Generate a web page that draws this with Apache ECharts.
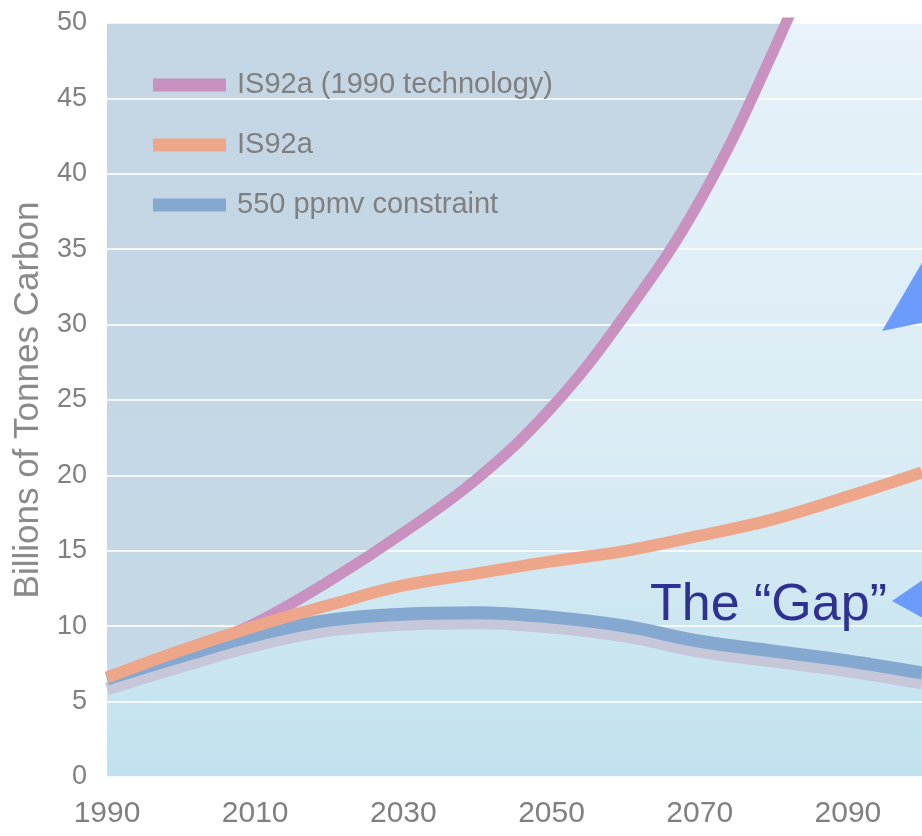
<!DOCTYPE html>
<html>
<head>
<meta charset="utf-8">
<script src="https://cdn.jsdelivr.net/npm/echarts@6/dist/echarts.min.js"></script>
<style>
html,body{margin:0;padding:0;background:#ffffff;}
#chart{width:922px;height:836px;}
</style>
</head>
<body>
<div id="chart"></div>
<script>
// ---- data ----
var years = [1990, 2000, 2010, 2020, 2030, 2040, 2050, 2060, 2070, 2080, 2090, 2100];
var is92a1990Tech = [6.6, 8.2, 10.2, 13.0, 16.2, 19.8, 24.5, 30.7, 38.2, 48.2, 60.0, 74.0];
var is92a = [6.6, 8.4, 10.0, 11.4, 12.7, 13.5, 14.3, 15.0, 16.0, 17.1, 18.6, 20.2];
var ppmv550 = [6.5, 8.0, 9.4, 10.4, 10.8, 10.9, 10.6, 10.0, 9.0, 8.35, 7.7, 6.9];
var seriesNames = ['IS92a (1990 technology)', 'IS92a', '550 ppmv constraint'];
var yTicks = [0, 5, 10, 15, 20, 25, 30, 35, 40, 45, 50];
var xTickLabels = [1990, 2010, 2030, 2050, 2070, 2090];
var yTitle = 'Billions of Tonnes Carbon';
var gapLabel = 'The \u201CGap\u201D';

function pairs(vals) { return years.map(function (y, i) { return [y, vals[i]]; }); }

var regular = "'Liberation Sans',Arial,sans-serif";

var chart = echarts.init(document.getElementById('chart'));
var option = {
  animation: false,
  backgroundColor: '#ffffff',
  grid: {
    left: 107, right: 0, top: 23, bottom: 59,
    show: true, borderWidth: 0,
    backgroundColor: {
      type: 'linear', x: 0, y: 0, x2: 0, y2: 1,
      colorStops: [
        {offset: 0, color: '#e7f2fa'},
        {offset: 0.55, color: '#dbecf5'},
        {offset: 1, color: '#c0e2ee'}
      ]
    }
  },
  legend: {
    orient: 'vertical',
    left: 148, top: 65,
    icon: 'rect',
    itemWidth: 73, itemHeight: 13,
    itemGap: 30,
    data: seriesNames,
    selectedMode: false,
    textStyle: {color: '#7f7f7f', fontSize: 29, fontFamily: regular, lineHeight: 30, padding: [0, 0, 0, 6]}
  },
  xAxis: {
    type: 'value', min: 1990, max: 2100, interval: 20,
    axisLine: {show: false}, axisTick: {show: false}, splitLine: {show: false},
    axisLabel: {
      color: '#808080', fontSize: 30, fontFamily: regular, margin: 22, showMaxLabel: false,
      formatter: function (v) { return xTickLabels.indexOf(v) >= 0 ? String(v) : ''; }
    }
  },
  yAxis: {
    type: 'value', min: 0, max: 50, interval: 5, z: 2,
    name: yTitle, nameLocation: 'middle', nameRotate: 90, nameGap: 60,
    nameTextStyle: {color: '#8a8a8a', fontSize: 35, fontFamily: regular},
    axisLine: {show: false}, axisTick: {show: false},
    splitLine: {show: true, lineStyle: {color: 'rgba(255,255,255,0.8)', width: 2}},
    axisLabel: {
      color: '#808080', fontSize: 27, fontFamily: regular, margin: 20,
      formatter: function (v) { return yTicks.indexOf(v) >= 0 ? String(v) : ''; }
    }
  },
  series: [
    {
      name: 'area', type: 'line', z: 1, silent: true, smooth: 0.4, symbol: 'none',
      data: pairs(is92a1990Tech),
      lineStyle: {width: 0, opacity: 0},
      areaStyle: {
        origin: 'end', opacity: 1,
        color: {type: 'linear', x: 0, y: 0, x2: 0, y2: 1,
          colorStops: [{offset: 0, color: '#c5d3e2'}, {offset: 1, color: '#c4d9e7'}]}
      },
      tooltip: {show: false}
    },
    {
      name: seriesNames[0], type: 'line', z: 3, smooth: 0.4, symbol: 'none',
      data: pairs(is92a1990Tech), color: '#c891c0',
      lineStyle: {width: 11, color: '#c891c0'}
    },
    {
      name: seriesNames[2], type: 'line', z: 3, smooth: 0.4, symbol: 'none',
      data: pairs(ppmv550), color: '#84a8d0',
      lineStyle: {width: 13, color: '#84a8d0', shadowColor: '#c6c7d8', shadowOffsetY: 10, shadowBlur: 0}
    },
    {
      name: seriesNames[1], type: 'line', z: 3, smooth: 0.4, symbol: 'none',
      data: pairs(is92a), color: '#eea68a',
      lineStyle: {width: 12, color: '#eea68a'}
    }
  ],
  graphic: [
    {type: 'text', left: 650, top: 580, z: 10, style: {text: gapLabel, fill: '#2e3192', font: '52px ' + regular}},
    {type: 'polygon', z: 10, shape: {points: [[892, 601], [930, 575], [930, 622]]}, style: {fill: '#6a9bfd'}},
    {type: 'polygon', z: 10, shape: {points: [[882, 331], [940, 232], [940, 319]]}, style: {fill: '#6a9bfd'}}
  ]
};
chart.setOption(option);
</script>
</body>
</html>
